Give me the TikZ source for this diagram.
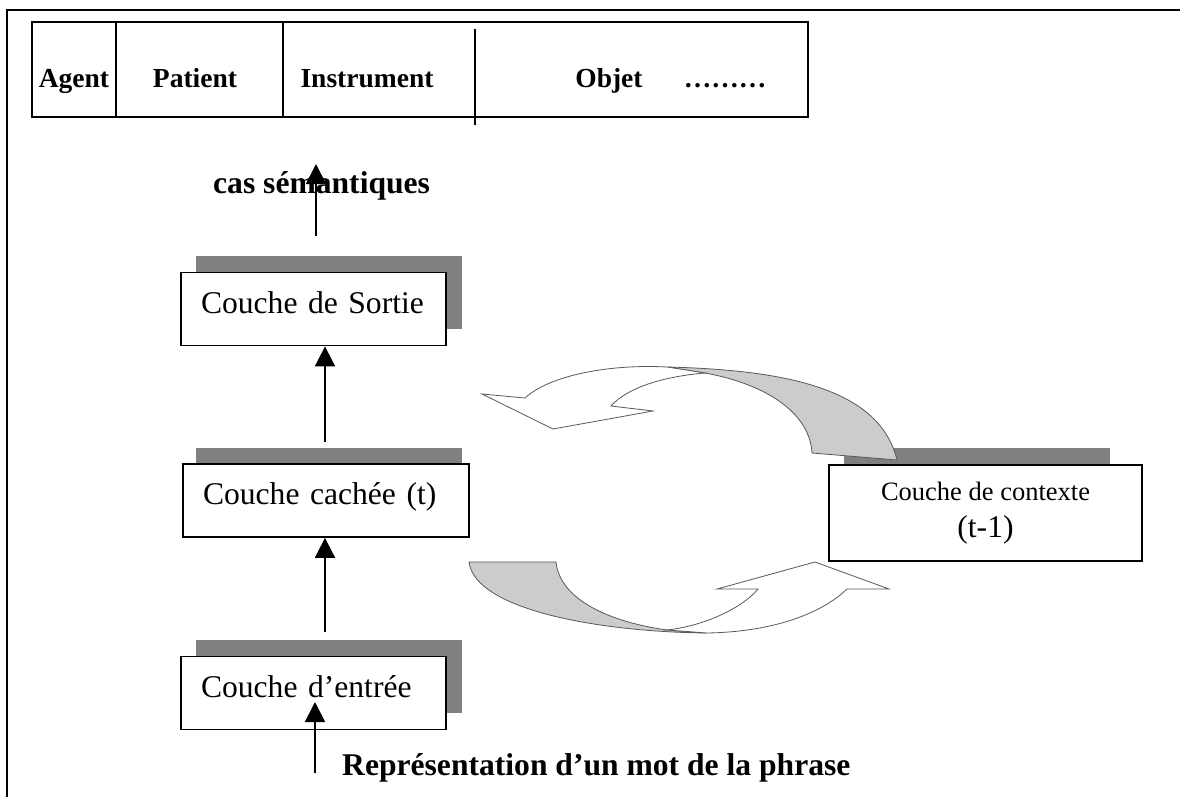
\documentclass[tikz,border=0pt]{standalone}
\usepackage{fontspec}
\setmainfont{Liberation Serif}
\usetikzlibrary{arrows.meta}

\begin{document}
\begin{tikzpicture}[x=1pt,y=-1pt,
    lbl/.style={font=\fontsize{31.6}{36}\selectfont\bfseries,inner sep=0pt},
    cell/.style={font=\fontsize{27.5}{32}\selectfont\bfseries,inner sep=0pt,anchor=base},
    shadowbox/.style={fill=black!50,minimum width=266pt,minimum height=73pt,inner sep=0pt},
    layer/.style={draw,line width=1.8pt,fill=white,inner xsep=20pt,inner ysep=0pt,align=left,
        font=\fontsize{31.6}{36}\selectfont,text height=22pt,text depth=14pt,minimum height=73pt},
    up/.style={line width=1.8pt,-{Triangle[width=20pt,length=20pt]}},
    ribbon/.style={draw=black!65,line width=0.8pt}]
    \useasboundingbox (0,0) rectangle (1180,797);

    \draw[line width=2pt] (7,797) -- (7,10) -- (1180,10);

    \node[draw,line width=1.6pt,minimum width=776pt,minimum height=95pt,inner sep=0pt] (cases) at (420,69.5) {};
    \draw[line width=1.6pt]
        (116,22) -- (116,117)
        (283,22) -- (283,117);
    \draw[line width=1.4pt] (475,29) -- (475,125);

    \node[cell] (c1) at (74,88) {Agent};
    \node[cell] (c2) at (195,88) {Patient};
    \node[cell] (c3) at (367,88) {Instrument};
    \node[cell] (c4) at (609,88) {Objet};
    \node[cell] (c5) at (725,88) {………};

    \node[lbl,anchor=base west] (cas) at (213,193) {cas sémantiques};

    \node[shadowbox] (s1) at (329,292.5) {};
    \node[shadowbox] (s2) at (329,484.5) {};
    \node[shadowbox] (s3) at (329,676.5) {};
    \node[shadowbox,minimum height=97pt] (s4) at (977,496.5) {};

    \node[layer,minimum width=265pt,text width=225pt] (out) at (313.5,309) {Couche de Sortie};
    \node[layer,minimum width=286pt,text width=246pt] (hid) at (326,500.5) {Couche cachée (t)};
    \node[layer,minimum width=265pt,text width=225pt] (inp) at (313.5,693) {Couche d’entrée};

    \node[draw,line width=1.8pt,fill=white,minimum width=313pt,minimum height=96pt,inner sep=0pt,
        align=center,font=\fontsize{26.5}{37}\selectfont] (ctx) at (985.5,513)
        {Couche de contexte\\{\fontsize{31.6}{37}\selectfont (t-1)}};

    \node[lbl,anchor=base west] (rep) at (342,775) {Représentation d’un mot de la phrase};

    \coordinate (o1) at (316,236);
    \coordinate (o2) at (316,164);
    \coordinate (h1) at (325,442);
    \coordinate (i1) at (325,632);
    \coordinate (w1) at (315,773);
    \coordinate (w2) at (315,702);

    \draw[up] (o1) -- (o2);
    \draw[up] (h1) -- (h1 |- out.south);
    \draw[up] (i1) -- (i1 |- hid.south);
    \draw[up] (w1) -- (w2);

    \draw[ribbon,fill=black!20]
        (667,367) .. controls (790,370) and (880,390) .. (897,460)
        -- (812,453) .. controls (810,415) and (770,385) .. (705,373) -- cycle;
    \draw[ribbon,fill=white]
        (667,367) .. controls (610,364) and (550,375) .. (525,398)
        -- (482,394) -- (553,429) -- (653,411) -- (611,406)
        .. controls (630,385) and (670,376) .. (705,373) -- cycle;

    \draw[ribbon,fill=black!20]
        (469,562) -- (556,562) .. controls (560,600) and (610,622) .. (667,630)
        -- (707,633) .. controls (600,632) and (475,610) .. (469,562) -- cycle;
    \draw[ribbon,fill=white]
        (667,630) .. controls (710,625) and (745,605) .. (758,589)
        -- (717,589) -- (815,562) -- (889,589) -- (847,589)
        .. controls (820,615) and (770,632) .. (707,633) -- cycle;
\end{tikzpicture}
\end{document}
